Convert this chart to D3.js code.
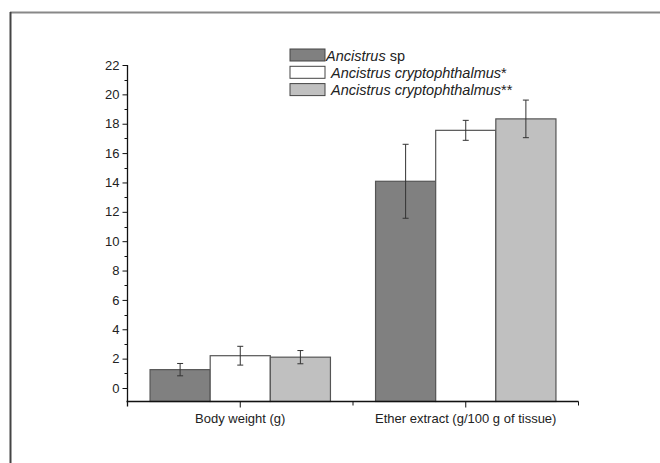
<!DOCTYPE html>
<html>
<head>
<meta charset="utf-8">
<script src="https://cdn.jsdelivr.net/npm/d3@7"></script>
<style>
  body { margin: 0; background: #fff; }
  text { font-family: Arial, "Liberation Sans", sans-serif; fill: #222; }
</style>
</head>
<body>
<svg id="chart" width="660" height="463"></svg>
<script>
// data
var categories = ["Body weight (g)", "Ether extract (g/100 g of tissue)"];
var seriesNames = ["Ancistrus sp", "Ancistrus cryptophthalmus*", "Ancistrus cryptophthalmus**"];
var means = [
  [1.25, 2.2, 2.1],
  [14.08, 17.55, 18.33]
];
var errors = [
  [0.42, 0.64, 0.45],
  [2.52, 0.68, 1.28]
];
var yTicks = [0, 2, 4, 6, 8, 10, 12, 14, 16, 18, 20, 22];

var colors = ["#808080", "#ffffff", "#c0c0c0"];

var svg = d3.select("svg#chart");

// page frame (top and left edges only)
svg.append("line").attr("x1", 10).attr("x2", 660).attr("y1", 12.5).attr("y2", 12.5)
  .attr("stroke", "#888").attr("stroke-width", 2);
svg.append("line").attr("x1", 10.5).attr("x2", 10.5).attr("y1", 12).attr("y2", 463)
  .attr("stroke", "#444").attr("stroke-width", 2);

var left = 127.5, right = 578.5, axisY = 401.5;

var y = d3.scaleLinear()
  .domain([0, 22])
  .range([388, 65]);

var x0 = d3.scaleBand()
  .domain(categories)
  .range([left, right])
  .paddingInner(0.2)
  .paddingOuter(0.1);

var x1 = d3.scaleBand()
  .domain(d3.range(seriesNames.length))
  .range([0, x0.bandwidth()]);

// bars
var groups = svg.selectAll("g.group")
  .data(categories)
  .enter().append("g")
  .attr("class", "group")
  .attr("transform", d => translate(x0(d), 0));

groups.selectAll("rect")
  .data((d, i) => means[i].map((v, j) => ({ v: v, j: j, e: errors[i][j] })))
  .enter().append("rect")
  .attr("x", d => x1(d.j))
  .attr("y", d => y(d.v))
  .attr("width", x1.bandwidth())
  .attr("height", d => axisY - y(d.v))
  .attr("fill", d => colors[d.j])
  .attr("stroke", "#555")
  .attr("stroke-width", 1.2);

// error bars
var eb = groups.selectAll("g.err")
  .data((d, i) => means[i].map((v, j) => ({ v: v, j: j, e: errors[i][j] })))
  .enter().append("g")
  .attr("class", "err")
  .attr("stroke", "#333")
  .attr("stroke-width", 1);

eb.append("line")
  .attr("x1", d => x1(d.j) + x1.bandwidth() / 2)
  .attr("x2", d => x1(d.j) + x1.bandwidth() / 2)
  .attr("y1", d => y(d.v + d.e))
  .attr("y2", d => y(d.v - d.e));
eb.append("line")
  .attr("x1", d => x1(d.j) + x1.bandwidth() / 2 - 3)
  .attr("x2", d => x1(d.j) + x1.bandwidth() / 2 + 3)
  .attr("y1", d => y(d.v + d.e))
  .attr("y2", d => y(d.v + d.e));
eb.append("line")
  .attr("x1", d => x1(d.j) + x1.bandwidth() / 2 - 3)
  .attr("x2", d => x1(d.j) + x1.bandwidth() / 2 + 3)
  .attr("y1", d => y(d.v - d.e))
  .attr("y2", d => y(d.v - d.e));

// y axis
var yAxis = svg.append("g")
  .attr("transform", translate(left, 0))
  .call(d3.axisLeft(y).tickValues(yTicks).tickSize(5).tickPadding(3));
yAxis.select(".domain").remove();
yAxis.selectAll("text").style("font-size", "13px").attr("fill", "#222");
yAxis.selectAll(".tick line").attr("stroke", "#111");

// minor ticks
svg.append("g").selectAll("line")
  .data(d3.range(1, 22, 2))
  .enter().append("line")
  .attr("x1", left - 3).attr("x2", left)
  .attr("y1", d => Math.round(y(d)) + 0.5).attr("y2", d => Math.round(y(d)) + 0.5)
  .attr("stroke", "#111");

svg.append("line")
  .attr("x1", left).attr("x2", left)
  .attr("y1", y(22)).attr("y2", axisY + 5)
  .attr("stroke", "#111").attr("stroke-width", 1.3);

// x axis
svg.append("line")
  .attr("x1", left - 1).attr("x2", right)
  .attr("y1", axisY).attr("y2", axisY)
  .attr("stroke", "#111").attr("stroke-width", 1.3);

var xTickPos = [left, (x0(categories[0]) + x0.bandwidth() + x0(categories[1])) / 2, right];
svg.append("g").selectAll("line")
  .data(xTickPos)
  .enter().append("line")
  .attr("x1", d => d).attr("x2", d => d)
  .attr("y1", axisY).attr("y2", axisY + 4)
  .attr("stroke", "#111");

svg.append("g").selectAll("line")
  .data(categories)
  .enter().append("line")
  .attr("x1", d => x0(d) + x0.bandwidth() / 2).attr("x2", d => x0(d) + x0.bandwidth() / 2)
  .attr("y1", axisY).attr("y2", axisY + 6)
  .attr("stroke", "#111");

svg.append("g").selectAll("text")
  .data(categories)
  .enter().append("text")
  .attr("x", d => x0(d) + x0.bandwidth() / 2)
  .attr("y", 423)
  .attr("text-anchor", "middle")
  .style("font-size", "13px")
  .text(d => d);

// legend
var legend = svg.append("g").attr("transform", translate(290, 49));
var rows = legend.selectAll("g")
  .data(seriesNames)
  .enter().append("g")
  .attr("transform", (d, i) => translate(0, i * 17.3));

rows.append("rect")
  .attr("width", 35).attr("height", 12)
  .attr("fill", (d, i) => colors[i])
  .attr("stroke", "#444").attr("stroke-width", 1);

var lt = rows.append("text")
  .attr("x", (d, i) => i == 0 ? 36 : 41)
  .attr("y", 11.5)
  .style("font-size", "14.5px");
lt.append("tspan").style("font-style", "italic")
  .text(d => d.split(" ").slice(0, d.indexOf("*") >= 0 ? 2 : 1).join(" ").replace(/\*/g, ""));
lt.append("tspan")
  .text(d => d.indexOf("*") >= 0 ? d.replace(/[^*]/g, "") : " " + d.split(" ").slice(1).join(" "));

function translate(x, y) {
  return 'translate(' + String(x) + ',' + String(y) + ')';
}
</script>
</body>
</html>
